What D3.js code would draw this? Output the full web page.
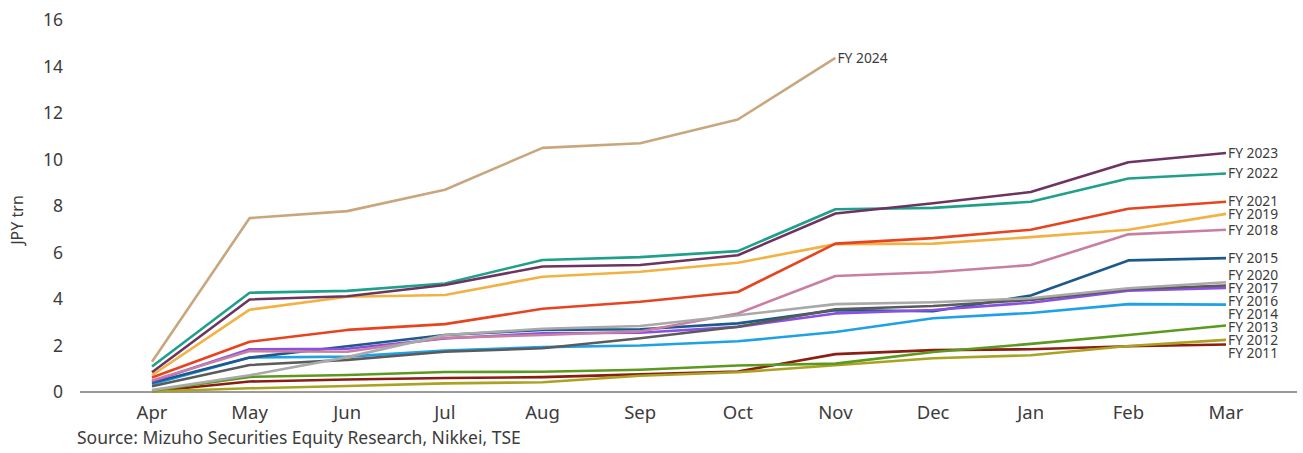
<!DOCTYPE html>
<html>
<head>
<meta charset="utf-8">
<script src="https://cdn.jsdelivr.net/npm/d3@7"></script>
<style>
  html, body { margin: 0; padding: 0; background: #ffffff; }
  svg { display: block; font-family: "Noto Sans", "Open Sans", sans-serif; }
</style>
</head>
<body>
<svg id="chart" width="1303" height="453"></svg>
<script>
// Cumulative value by fiscal month, JPY trillion
const months = ["Apr", "May", "Jun", "Jul", "Aug", "Sep", "Oct", "Nov", "Dec", "Jan", "Feb", "Mar"];
const yTicks = [0, 2, 4, 6, 8, 10, 12, 14, 16];

const fy2011 = [0.03, 0.45, 0.54, 0.60, 0.64, 0.76, 0.88, 1.63, 1.80, 1.84, 1.97, 2.04];
const fy2012 = [0.02, 0.16, 0.26, 0.37, 0.42, 0.70, 0.85, 1.15, 1.45, 1.58, 1.98, 2.24];
const fy2013 = [0.05, 0.65, 0.73, 0.86, 0.87, 0.96, 1.14, 1.22, 1.72, 2.07, 2.45, 2.86];
const fy2014 = [0.33, 1.48, 1.52, 1.78, 1.93, 2.00, 2.18, 2.58, 3.17, 3.40, 3.78, 3.76];
const fy2015 = [0.40, 1.48, 1.97, 2.45, 2.67, 2.70, 2.95, 3.52, 3.47, 4.15, 5.66, 5.76];
const fy2016 = [0.45, 1.84, 1.86, 2.30, 2.53, 2.55, 2.80, 3.38, 3.53, 3.84, 4.36, 4.48];
const fy2017 = [0.25, 1.16, 1.38, 1.73, 1.88, 2.31, 2.81, 3.56, 3.70, 3.96, 4.42, 4.58];
const fy2018 = [0.50, 1.76, 1.73, 2.33, 2.45, 2.60, 3.38, 4.99, 5.15, 5.46, 6.78, 6.98];
const fy2019 = [0.72, 3.54, 4.10, 4.17, 4.96, 5.17, 5.56, 6.36, 6.38, 6.66, 6.98, 7.66];
const fy2020 = [0.08, 0.72, 1.50, 2.45, 2.72, 2.84, 3.30, 3.78, 3.86, 4.03, 4.46, 4.72];
const fy2021 = [0.62, 2.16, 2.67, 2.92, 3.58, 3.88, 4.30, 6.38, 6.62, 6.98, 7.88, 8.18];
const fy2022 = [1.10, 4.27, 4.35, 4.67, 5.68, 5.80, 6.06, 7.86, 7.92, 8.18, 9.18, 9.40];
const fy2023 = [0.85, 3.98, 4.12, 4.60, 5.40, 5.46, 5.88, 7.68, 8.12, 8.60, 9.88, 10.28];
const fy2024 = [1.30, 7.48, 7.78, 8.70, 10.50, 10.70, 11.72, 14.37];

const seriesNames = ["FY 2011", "FY 2012", "FY 2013", "FY 2014", "FY 2015", "FY 2016", "FY 2017",
                     "FY 2018", "FY 2019", "FY 2020", "FY 2021", "FY 2022", "FY 2023", "FY 2024"];
const seriesValues = [fy2011, fy2012, fy2013, fy2014, fy2015, fy2016, fy2017,
                      fy2018, fy2019, fy2020, fy2021, fy2022, fy2023, fy2024];
const seriesColors = ["#8c1d12", "#a9a223", "#5b9a1f", "#1ea1e6", "#1d5a8b", "#8b4fe4", "#5b5b5b",
                      "#c87fa2", "#f1b243", "#a9a9a9", "#e8431f", "#1ea08a", "#6d3461", "#c9a77e"];

const series = seriesNames.map((name, i) => ({
  name, color: seriesColors[i],
  points: seriesValues[i].map((v, j) => ({ month: months[j], value: v }))
}));

const svg = d3.select("#chart");
const x = d3.scalePoint().domain(months).range([152, 1226]);
const y = d3.scaleLinear().domain([0, 16]).range([392, 20]);
const axisLeft = 80, axisRight = 1297;
const textColor = "#3c3c3c";

// y tick labels (no axis line, no gridlines)
svg.append("g")
  .selectAll("text")
  .data(yTicks)
  .join("text")
  .attr("x", 63)
  .attr("y", d => y(d))
  .attr("dy", "0.35em")
  .attr("text-anchor", "end")
  .attr("font-size", 17.5)
  .attr("fill", textColor)
  .text(d => d);

// y axis title
svg.append("text")
  .attr("transform", `translate(23,${220}) rotate(-90)`)
  .attr("text-anchor", "middle")
  .attr("font-size", 16)
  .attr("fill", textColor)
  .text("JPY trn");

// baseline
svg.append("line")
  .attr("x1", axisLeft).attr("x2", axisRight)
  .attr("y1", y(0)).attr("y2", y(0))
  .attr("stroke", "#7a7a7a").attr("stroke-width", 1.5);

// month labels
svg.append("g")
  .selectAll("text")
  .data(months)
  .join("text")
  .attr("x", d => x(d))
  .attr("y", 413)
  .attr("dy", "0.35em")
  .attr("text-anchor", "middle")
  .attr("font-size", 18.5)
  .attr("fill", textColor)
  .text(d => d);

// lines
const line = d3.line().x(d => x(d.month)).y(d => y(d.value));
svg.append("g")
  .selectAll("path")
  .data(series)
  .join("path")
  .attr("d", d => line(d.points))
  .attr("fill", "none")
  .attr("stroke", d => d.color)
  .attr("stroke-width", 2.6)
  .attr("stroke-linejoin", "round");

// end labels; full-year series are spread apart, leaning downward when crowded
const ends = series.map(s => {
  const last = s.points[s.points.length - 1];
  return { name: s.name, month: last.month, ly: y(last.value), full: s.points.length === months.length };
});
const stacked = ends.filter(d => d.full).sort((a, b) => a.ly - b.ly);
const gap = 13;
for (let iter = 0; iter < 400; iter++) {
  for (let i = 1; i < stacked.length; i++) {
    const a = stacked[i - 1], b = stacked[i];
    const overlap = gap - (b.ly - a.ly);
    if (overlap > 0) { a.ly -= overlap * 0.35; b.ly += overlap * 0.65; }
  }
}

svg.append("g")
  .selectAll("text")
  .data(ends)
  .join("text")
  .attr("x", d => x(d.month) + 2)
  .attr("y", d => d.ly)
  .attr("dy", "0.35em")
  .attr("font-size", 13.8)
  .attr("fill", textColor)
  .text(d => d.name);

// source note
svg.append("text")
  .attr("x", 77)
  .attr("y", 438)
  .attr("dy", "0.35em")
  .attr("font-size", 17.5)
  .attr("fill", textColor)
  .text("Source: Mizuho Securities Equity Research, Nikkei, TSE");
</script>
</body>
</html>
